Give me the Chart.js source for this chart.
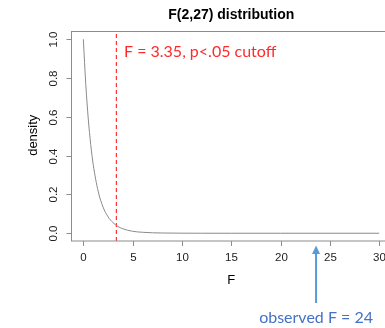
<!DOCTYPE html>
<html>
<head>
<meta charset="utf-8">
<script src="https://cdn.jsdelivr.net/npm/chart.js@4"></script>
<style>
  html, body { margin: 0; padding: 0; overflow: hidden; background: #fff; }
  canvas { display: block; }
</style>
</head>
<body>
<canvas id="myChart" width="400" height="328"></canvas>
<script>
// F(2,27) density
const fX = [0, 0.25, 0.5, 0.75, 1, 1.5, 2, 2.5, 3, 3.5, 4, 5, 6, 7, 8, 10, 12, 15, 20, 25, 30];
const fY = [1.0, 0.766, 0.590, 0.457, 0.355, 0.217, 0.135, 0.085, 0.055, 0.035, 0.023, 0.010, 0.005, 0.0023, 0.0012, 0.0003, 0.0001, 0, 0, 0, 0];

const xTicks = [0, 5, 10, 15, 20, 25, 30];
const yTicks = [0.0, 0.2, 0.4, 0.6, 0.8, 1.0];

const cutoffF = 3.35;
const observedF = 23.6;

const title = 'F(2,27) distribution';
const xTitle = 'F';
const yTitle = 'density';
const cutoffLabel = 'F = 3.35, p<.05 cutoff';
const observedLabel = 'observed F = 24';

const ctx = document.getElementById('myChart').getContext('2d');

var rAxes = {
  id: 'rAxes',
  afterDraw(chart) {
    const c = chart.ctx;
    const a = chart.chartArea;
    const xs = chart.scales.x;
    const ys = chart.scales.y;
    c.save();
    c.strokeStyle = '#8c8c8c';
    c.lineWidth = 1;
    c.strokeRect(a.left, a.top, a.right - a.left, a.bottom - a.top);

    c.fillStyle = '#222';
    c.font = '11.5px "Liberation Sans", Arial, sans-serif';
    c.textAlign = 'center';
    c.textBaseline = 'middle';
    xTicks.forEach(v => {
      const px = Math.round(xs.getPixelForValue(v)) + 0.5;
      c.beginPath();
      c.moveTo(px, a.bottom);
      c.lineTo(px, a.bottom + 5);
      c.stroke();
      c.fillText(String(v), px, a.bottom + 17);
    });
    yTicks.forEach(v => {
      const py = Math.round(ys.getPixelForValue(v)) + 0.5;
      c.beginPath();
      c.moveTo(a.left, py);
      c.lineTo(a.left - 5, py);
      c.stroke();
      c.save();
      c.translate(54, py);
      c.rotate(-Math.PI / 2);
      c.fillText(v.toFixed(1), 0, 0);
      c.restore();
    });

    const midX = (a.left + a.right) / 2;
    c.fillStyle = '#000';
    c.font = '13px "Liberation Sans", Arial, sans-serif';
    c.fillText(xTitle, midX, 280.5);
    c.save();
    c.translate(33, (a.top + a.bottom) / 2 - 1);
    c.rotate(-Math.PI / 2);
    c.fillText(yTitle, 0, 0);
    c.restore();

    c.font = 'bold 14px "Liberation Sans", Arial, sans-serif';
    c.fillText(title, midX, 15);

    // cutoff note
    c.fillStyle = '#ff2a2a';
    c.font = '16px Lato, sans-serif';
    c.textAlign = 'left';
    c.textBaseline = 'alphabetic';
    c.fillText(cutoffLabel, 124, 57);

    // observed arrow
    const ox = xs.getPixelForValue(observedF);
    c.strokeStyle = '#5b9bd5';
    c.fillStyle = '#5b9bd5';
    c.lineWidth = 2;
    c.beginPath();
    c.moveTo(ox, 303);
    c.lineTo(ox, 252);
    c.stroke();
    c.beginPath();
    c.moveTo(ox, 245.5);
    c.lineTo(ox - 4, 254);
    c.lineTo(ox + 4, 254);
    c.closePath();
    c.fill();

    c.fillStyle = '#4472c4';
    c.textAlign = 'center';
    c.fillText(observedLabel, ox, 322.5);
    c.restore();
  }
};

var graphData = {
  type: 'line',
  data: {
    datasets: [{
      label: 'density',
      data: fX.map((x, i) => ({ x: x, y: fY[i] })),
      borderColor: '#8a8a8a',
      borderWidth: 1,
      pointRadius: 0,
      cubicInterpolationMode: 'monotone',
    }, {
      label: 'cutoff',
      data: [{ x: cutoffF, y: -0.04 }, { x: cutoffF, y: 1.04 }],
      borderColor: '#ff3030',
      borderWidth: 1.2,
      borderDash: [4, 3],
      pointRadius: 0,
    }]
  },
  options: {
    responsive: false,
    devicePixelRatio: 1,
    animation: false,
    layout: { padding: { left: 71.5, top: 31.5, right: 9, bottom: 87 } },
    plugins: { legend: { display: false }, tooltip: { enabled: false } },
    scales: {
      x: { type: 'linear', min: -1.2, max: 31.2, display: false },
      y: { type: 'linear', min: -0.04, max: 1.04, display: false }
    }
  },
  plugins: [rAxes]
};

var myChart = new Chart(ctx, graphData);
</script>
</body>
</html>
